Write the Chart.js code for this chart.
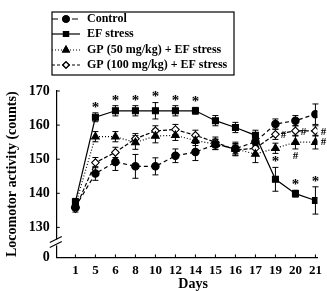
<!DOCTYPE html>
<html><head><meta charset="utf-8">
<script src="https://cdn.jsdelivr.net/npm/chart.js@4/dist/chart.umd.min.js"></script>
<style>html,body{margin:0;padding:0;background:#fff}#wrap{width:327px;height:291px;position:relative}</style>
</head><body><div id="wrap"><canvas id="c" width="327" height="291"></canvas></div>
<script>
const days = ['1','5','6','8','10','12','14','15','16','17','19','20','21'];
const control = [136,145.8,149.2,147.9,147.9,151,152.1,154.3,153.1,155.1,160.3,161.3,163.2];
const controlErr = [1,2,2.5,3.5,2.5,2,2.5,1.5,1.5,1.5,1.5,1.5,3];
const efStress = [137.5,162.3,164.2,164.2,164.2,164.2,164.2,161.3,159.3,157,144.1,139.9,137.9];
const efErr = [1,1.3,1.5,1.5,2.4,1.5,1,1.5,1.5,1.5,3.5,1,4];
const gp50 = [136.5,156.6,156.6,154.9,156.8,157,155.5,154.4,153,151.5,153.2,155,155];
const gp50Err = [1,1.5,1.5,2,2,1.5,1.5,1.5,2,2.5,1.5,2,2];
const gp100 = [135.5,149,152,156,158.3,158.7,157,155,152.7,153.2,157.3,158.3,158.3];
const gp100Err = [1,1.5,1.5,1.5,1.5,1.5,1.5,1.5,1.5,1.5,1.5,1.5,1.5];
const yTicks = [130,140,150,160,170];
const yBreakValue = 121.2; // bottom of axis, labelled "0"
const starDays = ['5','6','8','10','12','14','19','20','21'];
const gp100HashDays = ['19','20','21'];
const gp50HashDays = ['20','21'];
const labels = ['Control','EF stress','GP (50 mg/kg) + EF stress','GP (100 mg/kg) + EF stress'];
const xTitle = 'Days';

const FONT = "'Liberation Serif', 'Times New Roman', serif";
const pts = arr => arr.map((v,i)=>({x:i,y:v}));
const errs = [controlErr, efErr, gp50Err, gp100Err];

const common = {borderColor:'#000',pointBorderColor:'#000',borderWidth:1.2,pointBorderWidth:1.1,tension:0,pointHoverRadius:0};
const datasets = [
  Object.assign({label:labels[0],data:pts(control),borderDash:[4,3],pointStyle:'circle',pointRadius:3.7,pointBackgroundColor:'#000'},common),
  Object.assign({label:labels[1],data:pts(efStress),borderDash:[],pointStyle:'rect',pointRadius:4.2,pointBackgroundColor:'#000'},common),
  Object.assign({label:labels[2],data:pts(gp50),borderDash:[1,2],pointStyle:'triangle',pointRadius:4.4,pointBackgroundColor:'#000'},common),
  Object.assign({label:labels[3],data:pts(gp100),borderDash:[4,2],pointStyle:'rectRot',pointRadius:3.8,pointBackgroundColor:'#fff'},common)
];

const errPlugin = {
  id:'err',
  beforeDatasetsDraw(chart){
    const ctx=chart.ctx, xs=chart.scales.x, ys=chart.scales.y;
    ctx.save(); ctx.strokeStyle='#000'; ctx.lineWidth=1; ctx.setLineDash([]);
    chart.data.datasets.forEach((ds,di)=>{
      ds.data.forEach((p,i)=>{
        const e=errs[di][i]; const x=xs.getPixelForValue(p.x);
        const y1=ys.getPixelForValue(p.y+e), y2=ys.getPixelForValue(p.y-e);
        ctx.beginPath(); ctx.moveTo(x,y1); ctx.lineTo(x,y2);
        ctx.moveTo(x-3,y1); ctx.lineTo(x+3,y1); ctx.moveTo(x-3,y2); ctx.lineTo(x+3,y2); ctx.stroke();
      });
    });
    ctx.restore();
  },
  afterDatasetsDraw(chart){
    const ctx=chart.ctx, xs=chart.scales.x, ys=chart.scales.y, ca=chart.chartArea;
    ctx.save(); ctx.fillStyle='#000'; ctx.strokeStyle='#000'; ctx.lineWidth=1.2;
    ctx.font="bold 15px "+FONT; ctx.textAlign='center'; ctx.textBaseline='middle';
    starDays.forEach(d=>{const i=days.indexOf(d); const x=xs.getPixelForValue(i); const y=ys.getPixelForValue(efStress[i]+efErr[i]); ctx.fillText('*',x,y-5);});
    ctx.font="bold 11px "+FONT;
    gp100HashDays.forEach(d=>{const i=days.indexOf(d); ctx.fillText('#',xs.getPixelForValue(i)+8,ys.getPixelForValue(gp100[i])+1);});
    gp50HashDays.forEach((d,k)=>{const i=days.indexOf(d); const x=xs.getPixelForValue(i), y=ys.getPixelForValue(gp50[i]);
      if(k===0) ctx.fillText('#',x,ys.getPixelForValue(gp50[i]-gp50Err[i])+7); else ctx.fillText('#',x+8,y);});
    ctx.lineWidth=1; ctx.beginPath();
    days.forEach((d,i)=>{const x=xs.getPixelForValue(i); ctx.moveTo(x,ca.bottom); ctx.lineTo(x,ca.bottom-3);});
    yTicks.forEach(v=>{const y=ys.getPixelForValue(v); ctx.moveTo(ca.left,y); ctx.lineTo(ca.left+3,y);});
    ctx.stroke();
    const yb=(ys.getPixelForValue(130)+ca.bottom)/2;
    ctx.fillStyle='#fff'; ctx.fillRect(ca.left-2,yb-3,4,6);
    ctx.strokeStyle='#000'; ctx.lineWidth=1.1; ctx.beginPath();
    ctx.moveTo(ca.left-7,yb); ctx.lineTo(ca.left+5,yb-6);
    ctx.moveTo(ca.left-7,yb+5); ctx.lineTo(ca.left+5,yb-1);
    ctx.stroke();
    ctx.fillStyle='#000'; ctx.font="bold 14px "+FONT; ctx.textAlign='center'; ctx.textBaseline='middle';
    ctx.fillText(xTitle,(ca.left+ca.right)/2+6,ca.bottom+27);
    ctx.restore();
  }
};

const legendPlugin = {
  id:'boxlegend',
  afterDraw(chart){
    const ctx=chart.ctx; ctx.save();
    const bx=52,by=12,bw=182,bh=63;
    ctx.strokeStyle='#000'; ctx.lineWidth=1.2; ctx.strokeRect(bx,by,bw,bh);
    ctx.font="bold 12px "+FONT; ctx.textAlign='left'; ctx.textBaseline='middle'; ctx.fillStyle='#000';
    const rows=[19,34,50,65];
    const dashes=[[6,4],[],[1,2],[3,2]];
    chart.data.datasets.forEach((ds,i)=>{
      const y=rows[i];
      ctx.strokeStyle='#000';
      ctx.setLineDash(dashes[i]); ctx.lineWidth=1.2; ctx.beginPath(); ctx.moveTo(bx,y); ctx.lineTo(bx+28,y); ctx.stroke();
      ctx.setLineDash([]);
      Chart.helpers.drawPoint(ctx,{pointStyle:ds.pointStyle,radius:ds.pointRadius*0.85,borderWidth:1.1},bx+14,y);
      ctx.fillStyle=ds.pointBackgroundColor; ctx.fill(); ctx.stroke();
      ctx.fillStyle='#000';
      ctx.fillText(ds.label,bx+35,y);
    });
    ctx.restore();
  }
};

new Chart(document.getElementById('c'),{
  type:'line',
  data:{datasets},
  options:{
    responsive:false,animation:false,
    layout:{padding:{top:91,right:9,left:4,bottom:8}},
    plugins:{legend:{display:false},tooltip:{enabled:false}},
    scales:{
      x:{type:'linear',min:-0.93,max:12.1,
        afterBuildTicks(s){s.ticks=days.map((d,i)=>({value:i}));},
        ticks:{callback:(v)=>days[v],color:'#000',font:{family:FONT,size:13,weight:'bold'},padding:5,maxRotation:0,autoSkip:false},
        grid:{display:false,drawTicks:false},border:{display:true,color:'#000',width:1.2},
        title:{display:false}},
      y:{type:'linear',min:yBreakValue,max:170,
        afterBuildTicks(s){s.ticks=[{value:yBreakValue}].concat(yTicks.map(v=>({value:v})));},
        ticks:{callback:(v)=>v<125?'0':v,color:'#000',font:{family:FONT,size:14,weight:'bold'},padding:7},
        grid:{display:false,drawTicks:false},border:{display:true,color:'#000',width:1.2},
        title:{display:true,text:'Locomotor activity (counts)',color:'#000',font:{family:FONT,size:14,weight:'bold'},padding:{top:0,bottom:1}}}
    }
  },
  plugins:[errPlugin,legendPlugin]
});
</script></body></html>
